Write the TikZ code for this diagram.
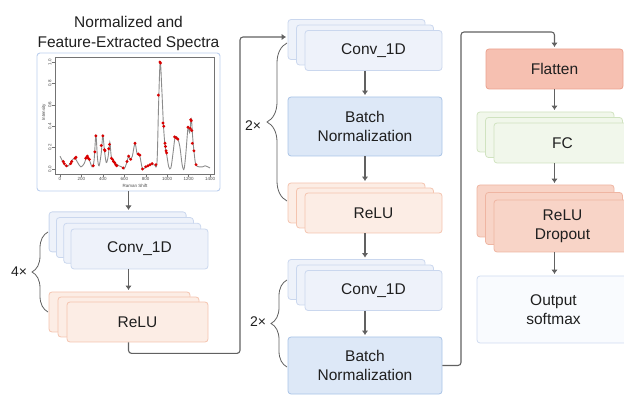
\documentclass[tikz,border=0pt]{standalone}
\usepackage{fontspec}
\setmainfont{Liberation Sans}
\usetikzlibrary{arrows.meta,calc,decorations.pathreplacing}
\definecolor{conv fill}{HTML}{EEF2FA}
\definecolor{conv edge}{HTML}{CAD7EE}
\definecolor{bn fill}{HTML}{DDE8F7}
\definecolor{bn edge}{HTML}{A9C4E7}
\definecolor{relu fill}{HTML}{FCEDE5}
\definecolor{relu edge}{HTML}{F4C4AF}
\definecolor{flat fill}{HTML}{F6C0B1}
\definecolor{flat edge}{HTML}{EBA28F}
\definecolor{fc fill}{HTML}{F1F7EB}
\definecolor{fc edge}{HTML}{D0E3C0}
\definecolor{drop fill}{HTML}{F8D4C7}
\definecolor{drop edge}{HTML}{EFB5A2}
\definecolor{out fill}{HTML}{F9FBFE}
\definecolor{out edge}{HTML}{CFDBF0}
\definecolor{panel edge}{HTML}{BCCFEE}
\colorlet{line gray}{black!62}
\colorlet{dot red}{red!85!black}
\tikzset{
    block/.style={rectangle, rounded corners=3pt, line width=0.8pt, inner sep=0pt,
        align=center, text=black!88, font=\fontsize{15.5}{19}\selectfont},
    convbox/.style={block, fill=conv fill, draw=conv edge, minimum width=137pt, minimum height=40pt},
    bnbox/.style={block, fill=bn fill, draw=bn edge, minimum width=154pt},
    relubox/.style={block, fill=relu fill, draw=relu edge, minimum width=137pt, minimum height=40pt},
    flatbox/.style={block, fill=flat fill, draw=flat edge, minimum width=137pt, minimum height=40pt},
    fcbox/.style={block, fill=fc fill, draw=fc edge, minimum width=137pt, minimum height=40pt},
    dropbox/.style={block, fill=drop fill, draw=drop edge, minimum width=137pt, minimum height=52pt},
    outbox/.style={block, fill=out fill, draw=out edge, minimum width=153pt, minimum height=67pt},
    panel/.style={rectangle, rounded corners=3pt, fill=white, draw=panel edge, line width=0.9pt,
        minimum width=183pt, minimum height=138pt},
    title/.style={align=center, text=black!88, font=\fontsize{15.5}{20}\selectfont},
    reps/.style={text=black!88, font=\fontsize{14}{16}\selectfont},
    arr/.style={draw=line gray, line width=1.1pt, -{Latex[length=4.5pt,width=6.5pt]}, shorten >=1.5pt},
    brc/.style={draw=line gray, line width=0.8pt, decorate, decoration={brace, amplitude=#1}},
    brc/.default=16pt,
    axis/.style={draw=black!55, line width=0.4pt},
    ticklab/.style={text=black!70, font=\fontsize{4.5}{5}\selectfont, inner sep=0.5pt},
    curve/.style={draw=black!45, line width=0.9pt},
}

\begin{document}
\begin{tikzpicture}[x=1pt, y=-1pt]
    \useasboundingbox (0,0) rectangle (624,395);

    % spectra
    \node[title] (spectitle) at (128.5,33) {Normalized and\\Feature-Extracted Spectra};
    \node[panel] (spec) at (128.5,122) {};
    \draw[axis] (55,57) rectangle (214,174);
    \begin{scope}[shift={(60,169)}, x=0.10714pt, y=107pt]
        \foreach \t in {0,200,...,1400}
            \draw[axis] (\t,-0.047) -- ++(0,-0.028) node[below, ticklab] {\t};
        \foreach \v/\s in {0/0.0,0.2/0.2,0.4/0.4,0.6/0.6,0.8/0.8,1/1.0}
            \draw[axis] (-46.7,\v) -- ++(-28,0) node[ticklab, rotate=90, anchor=south] {\s};
        \node[ticklab, rotate=90] at (-150,0.53) {Intensity};
        \node[ticklab] at (700,-0.16) {Raman Shift};
        \draw[curve] plot[smooth, tension=0.55] coordinates {
            (0,0.12) (20,0.08) (50,0.03) (80,0.03) (110,0.08) (140,0.10) (165,0.06)
            (195,0.02) (225,0.05) (250,0.11) (275,0.08) (300,0.02) (318,0.08) (335,0.31)
            (350,0.10) (365,0.03) (385,0.15) (400,0.31) (415,0.17) (432,0.06) (450,0.12)
            (465,0.25) (478,0.12) (495,0.09) (520,0.05) (550,0.03) (575,0.02) (598,0.00)
            (620,0.05) (640,0.12) (655,0.09) (675,0.12) (700,0.24) (720,0.14) (745,0.12)
            (770,0.00) (800,0.02) (840,0.04) (880,0.04) (905,0.06) (920,0.60) (935,1.00)
            (950,0.75) (965,0.42) (980,0.22) (995,0.14) (1015,0.02) (1035,0.01) (1055,0.15)
            (1075,0.30) (1100,0.28) (1120,0.20) (1140,0.04) (1158,0.00) (1175,0.15) (1195,0.39)
            (1210,0.34) (1225,0.47) (1238,0.30) (1252,0.15) (1268,0.04) (1300,0.02) (1330,0.02)
            (1355,0.03) (1380,0.02) (1400,0.01)};
        \foreach \p in {(30,0.07),(40,0.05),(60,0.03),(100,0.05),(110,0.07),(140,0.10),(150,0.11),
            (240,0.10),(250,0.11),(255,0.12),(265,0.10),(275,0.09),(310,0.03),(325,0.16),(335,0.31),
            (385,0.22),(400,0.31),(415,0.18),(420,0.17),(455,0.19),(462,0.23),(480,0.10),(490,0.09),
            (500,0.07),(510,0.06),(520,0.04),(530,0.03),(590,0.01),(625,0.07),(640,0.12),(660,0.09),
            (700,0.24),(730,0.14),(745,0.13),(770,0.00),(800,0.02),(820,0.03),(840,0.04),(860,0.05),
            (895,0.04),(918,0.69),(932,1.00),(938,0.99),(962,0.43),(968,0.40),(980,0.24),(985,0.21),
            (990,0.17),(995,0.15),(1070,0.30),(1085,0.29),(1100,0.28),(1195,0.39),(1215,0.38),
            (1220,0.46),(1225,0.45),(1230,0.36),(1235,0.24),(1250,0.17),(1270,0.04)}
            \fill[dot red] \p circle (1.6pt);
    \end{scope}

    % first column
    \foreach \k in {3,2,1}
        \node[convbox] (conva-\k) at ($(139.5,249)+(-7.3*\k,-5.7*\k)$) {};
    \node[convbox] (conva) at (139.5,249) {Conv\_1D};
    \foreach \k in {2,1}
        \node[relubox, minimum width=141pt] (relua-\k) at ($(137.5,322)+(-9*\k,-5*\k)$) {};
    \node[relubox, minimum width=141pt] (relua) at (137.5,322) {ReLU};

    % second column
    \foreach \k in {2,1}
        \node[convbox] (convb-\k) at ($(373.5,50.5)+(-8.5*\k,-5.5*\k)$) {};
    \node[convbox] (convb) at (373.5,50.5) {Conv\_1D};
    \node[bnbox, minimum height=59pt] (bna) at (365,126.5) {Batch\\Normalization};
    \foreach \k in {2,1}
        \node[relubox] (relub-\k) at ($(373.5,213)+(-8.5*\k,-5*\k)$) {};
    \node[relubox] (relub) at (373.5,213) {ReLU};
    \foreach \k in {2,1}
        \node[convbox] (convc-\k) at ($(373.5,290.5)+(-8.5*\k,-5.5*\k)$) {};
    \node[convbox] (convc) at (373.5,290.5) {Conv\_1D};
    \node[bnbox, minimum height=57pt] (bnb) at (365,365.5) {Batch\\Normalization};

    % third column
    \node[flatbox] (flat) at (554.5,69) {Flatten};
    \foreach \k in {2,1}
        \node[fcbox] (fc-\k) at ($(562.5,143)+(-8.5*\k,-5.5*\k)$) {};
    \node[fcbox] (fc) at (562.5,143) {FC};
    \foreach \k in {2,1}
        \node[dropbox] (drop-\k) at ($(562.5,226)+(-8.5*\k,-7.5*\k)$) {};
    \node[dropbox] (drop) at (562.5,226) {ReLU\\Dropout};
    \node[outbox] (out) at (553.5,309.5) {Output\\softmax};

    % repeats
    \draw[brc] (48,312) -- (48,232);
    \node[reps] (repa) at (19,272) {4×};
    \draw[brc=20pt] (287,201) -- (287,43);
    \node[reps] (repb) at (253,126) {2×};
    \draw[brc] (287,367) -- (287,280);
    \node[reps] (repc) at (258,322) {2×};

    % connectors
    \coordinate (busa) at (240,37);
    \coordinate (busb) at (461,32);
    \draw[arr] (spec.south) -- (spec.south |- conva-3.north);
    \draw[arr] (conva.south -| spec) -- (relua-2.north -| spec);
    \draw[arr, rounded corners=3pt] (relua.south -| spec) -- ++(0,11) -| (busa) -- (convb-2.west |- busa);
    \draw[arr] (convb.south -| bna) -- (bna.north);
    \draw[arr] (bna.south) -- (relub-2.north -| bna);
    \draw[arr] (relub.south -| bna) -- (convc-2.north -| bna);
    \draw[arr] (convc.south -| bnb) -- (bnb.north);
    \draw[arr, rounded corners=3pt] (bnb.east) -| (busb) -| (flat.north);
    \draw[arr] (flat.south) -- (fc-2.north -| flat);
    \draw[arr] (fc.south -| flat) -- (drop-2.north -| flat);
    \draw[arr] (drop.south -| flat) -- (out.north -| flat);
\end{tikzpicture}
\end{document}
